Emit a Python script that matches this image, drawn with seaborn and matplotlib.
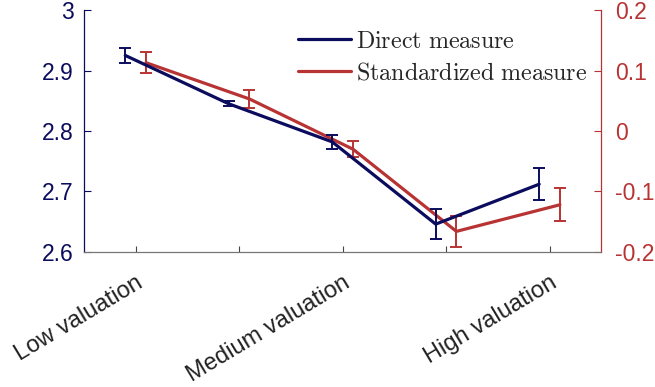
"""Dual-axis line chart: direct vs standardized measure across valuation bins."""
import matplotlib
matplotlib.use("Agg")
import matplotlib.pyplot as plt
import matplotlib.transforms as mtransforms
import numpy as np
import pandas as pd
import seaborn as sns

# data
positions = [1, 2, 3, 4, 5]
tick_labels = ["Low valuation", "", "Medium valuation", "", "High valuation"]
direct_mean = [2.925, 2.845, 2.782, 2.646, 2.712]
direct_err = [0.012, 0.004, 0.012, 0.025, 0.026]
std_mean = [0.113, 0.053, -0.030, -0.166, -0.122]
std_err = [0.017, 0.015, 0.013, 0.026, 0.027]

BLUE = "#0c0c5e"
RED = "#b83434"
offset = 0.1

sns.set_style("white")
plt.rcParams["font.family"] = ["Liberation Sans", "DejaVu Sans"]
plt.rcParams["mathtext.fontset"] = "cm"

fig = plt.figure(figsize=(6.55, 3.87), dpi=100)
ax = fig.add_axes([0.128, 0.349, 0.79, 0.625])
ax2 = ax.twinx()

df_direct = pd.DataFrame({"x": np.array(positions) - offset, "y": direct_mean})
df_std = pd.DataFrame({"x": np.array(positions) + offset, "y": std_mean})

sns.lineplot(data=df_direct, x="x", y="y", ax=ax, color=BLUE, lw=2.3,
             label=r"$\mathrm{Direct\ measure}$", legend=False)
ax.errorbar(df_direct["x"], df_direct["y"], yerr=direct_err, fmt="none",
            ecolor=BLUE, elinewidth=1.4, capsize=4, capthick=1.4)
sns.lineplot(data=df_std, x="x", y="y", ax=ax2, color=RED, lw=2.3,
             label=r"$\mathrm{Standardized\ measure}$", legend=False)
ax2.errorbar(df_std["x"], df_std["y"], yerr=std_err, fmt="none",
             ecolor=RED, elinewidth=1.4, capsize=4, capthick=1.4)

ax.set_xlim(0.5, 5.5)
ax.set_ylim(2.6, 3.0)
ax2.set_ylim(-0.2, 0.2)
ax.set_yticks([2.6, 2.7, 2.8, 2.9, 3.0])
ax.set_yticklabels(["2.6", "2.7", "2.8", "2.9", "3"])
ax2.set_yticks([-0.2, -0.1, 0, 0.1, 0.2])
ax2.set_yticklabels(["-0.2", "-0.1", "0", "0.1", "0.2"])
ax.set_xticks(positions)
ax.set_xticklabels(tick_labels, rotation=31, ha="right",
                   rotation_mode="anchor", fontsize=17, color="#222222")
# nudge rotated labels a few pixels right, like the reference
shift = mtransforms.ScaledTranslation(5 / 100, 0, fig.dpi_scale_trans)
for lbl in ax.get_xticklabels():
    lbl.set_transform(lbl.get_transform() + shift)
ax.set_xlabel("")
ax.set_ylabel("")
ax2.set_ylabel("")

for a in (ax, ax2):
    a.spines["top"].set_visible(False)
    a.set_facecolor("none")
ax.spines["right"].set_visible(False)
ax2.spines["left"].set_visible(False)
ax2.spines["bottom"].set_visible(False)
ax.spines["left"].set_color(BLUE)
ax2.spines["right"].set_color(RED)
ax.spines["bottom"].set_color("#777777")
for s in ("left", "bottom"):
    ax.spines[s].set_linewidth(0.9)
ax2.spines["right"].set_linewidth(0.9)

ax.tick_params(axis="y", direction="in", length=5, colors=BLUE,
               labelsize=16.5, left=True, pad=7.5)
ax.tick_params(axis="x", direction="in", length=4, color="#444444",
               bottom=True, pad=14)
ax2.tick_params(axis="y", direction="in", length=5, colors=RED,
                labelsize=16.5, right=True, pad=10)

handles = ax.get_lines()[:1] + ax2.get_lines()[:1]
leg = ax.legend(handles, [h.get_label() for h in handles], loc="upper left",
                bbox_to_anchor=(0.396, 0.955), frameon=False, fontsize=17.3,
                handlelength=2.2, handletextpad=0.2, labelspacing=0.4,
                borderaxespad=0)
ax.set_zorder(ax2.get_zorder() + 1)

fig.savefig("out.png", dpi=100)
